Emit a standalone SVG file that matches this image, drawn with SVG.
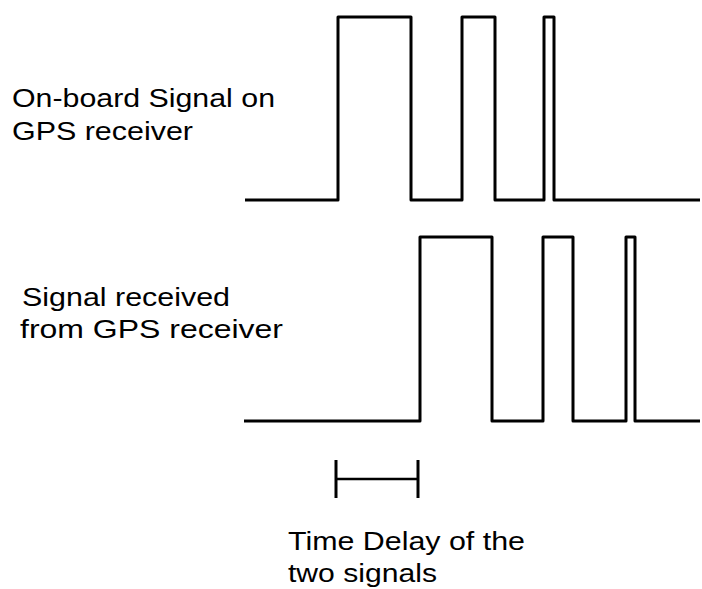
<svg xmlns="http://www.w3.org/2000/svg" width="702" height="589" viewBox="0 0 702 589">
<style>
.sig{fill:none;stroke:#000;stroke-width:3;stroke-linejoin:round}
.lbl{font-family:"Liberation Sans",Arial,sans-serif;font-size:26px;fill:#000}
</style>
<rect width="702" height="589" fill="#fff"/>
<g id="onboard-label">
<text class="lbl" x="12" y="106.5" textLength="263" lengthAdjust="spacingAndGlyphs">On-board Signal on</text>
<text class="lbl" x="12" y="140" textLength="181" lengthAdjust="spacingAndGlyphs">GPS receiver</text>
</g>
<g id="received-label">
<text class="lbl" x="22" y="306" textLength="208" lengthAdjust="spacingAndGlyphs">Signal received</text>
<text class="lbl" x="20" y="338" textLength="263" lengthAdjust="spacingAndGlyphs">from GPS receiver</text>
</g>
<g id="onboard-signal">
<polyline class="sig" points="245,200 338,200 338,17 411,17 411,200 462,200 462,17 495,17 495,200 544,200 544,17 554,17 554,200 700,200"/>
</g>
<g id="received-signal">
<polyline class="sig" points="244,421 420,421 420,237 492,237 492,421 543,421 543,237 573,237 573,421 626,421 626,237 635,237 635,421 700,421"/>
</g>
<g id="delay">
<line class="sig" x1="336" y1="460" x2="336" y2="498"/>
<line class="sig" x1="418" y1="460" x2="418" y2="498"/>
<line class="sig" x1="336" y1="479" x2="418" y2="479" style="stroke-width:2.5"/>
<text class="lbl" x="288" y="549.5" textLength="237" lengthAdjust="spacingAndGlyphs">Time Delay of the</text>
<text class="lbl" x="288" y="581.5" textLength="149" lengthAdjust="spacingAndGlyphs">two signals</text>
</g>
</svg>
